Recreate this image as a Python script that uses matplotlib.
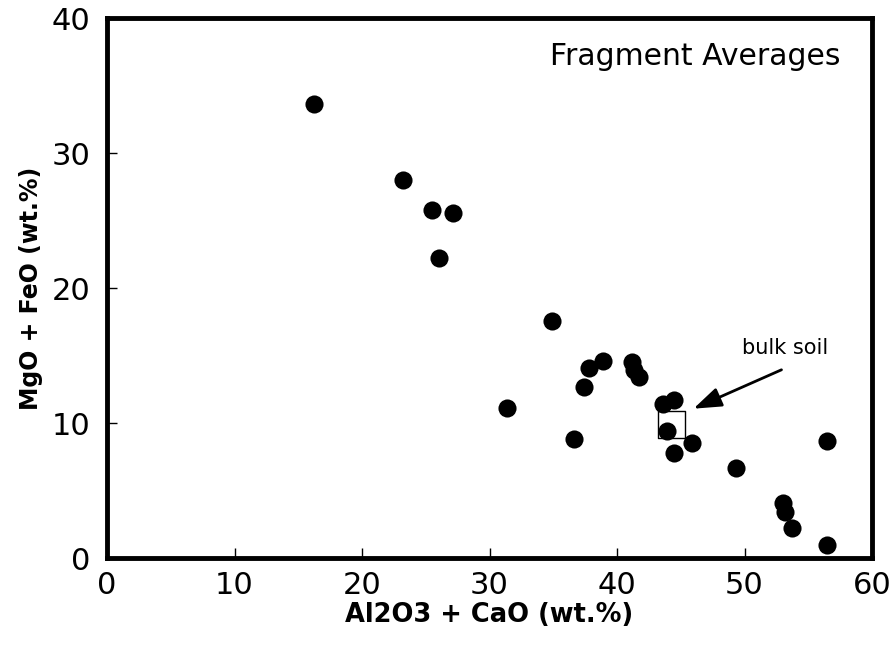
import matplotlib
matplotlib.use("Agg")
import matplotlib.pyplot as plt

# fragment averages (wt.%)
al2o3_cao = [16.2, 23.2, 25.5, 27.1, 26.0, 34.9, 31.4, 36.6, 37.4, 37.8,
             38.9, 41.2, 41.3, 41.7, 43.6, 44.5, 43.9, 45.9, 44.5, 49.3,
             56.5, 53.0, 53.2, 53.7, 56.5]
mgo_feo = [33.65, 28.0, 25.8, 25.6, 22.2, 17.6, 11.1, 8.8, 12.7, 14.1,
           14.6, 14.5, 13.95, 13.4, 11.4, 11.7, 9.4, 8.55, 7.8, 6.7,
           8.7, 4.05, 3.4, 2.2, 0.95]

bulk_soil = (44.3, 9.9)

x_ticks = [0, 10, 20, 30, 40, 50, 60]
y_ticks = [0, 10, 20, 30, 40]

plt.rcParams["font.family"] = ["DejaVu Sans"]

fig = plt.figure(figsize=(8.94, 6.46), dpi=100)
ax = fig.add_axes([0.1197, 0.136, 0.8557, 0.836])

ax.scatter(al2o3_cao, mgo_feo, s=170, color="black", zorder=3, clip_on=False,
           linewidths=0)
ax.scatter([bulk_soil[0]], [bulk_soil[1]], s=380, marker="s",
           facecolors="none", edgecolors="black", linewidths=1.0, zorder=2)

ax.annotate("", xy=(46.0, 11.07), xytext=(52.9, 13.95),
            arrowprops=dict(arrowstyle="-|>,head_length=1.7,head_width=0.6",
                            color="black", lw=2, shrinkA=0, shrinkB=0))
ax.text(53.2, 15.6, "bulk soil", ha="center", va="center", fontsize=15)

ax.text(57.5, 36.5, "Fragment Averages", ha="right", va="baseline",
        fontsize=21.5)

ax.set_xlim(0, 60)
ax.set_ylim(0, 40)
ax.set_xticks(x_ticks)
ax.set_yticks(y_ticks)
ax.tick_params(direction="in", length=7, width=1, labelsize=22)
ax.tick_params(axis="x", pad=9)
ax.tick_params(axis="y", pad=12)

for sp in ax.spines.values():
    sp.set_linewidth(3.5)

ax.set_xlabel("Al2O3 + CaO (wt.%)", fontsize=18.5, fontweight="bold",
              labelpad=2)
ax.set_ylabel("MgO + FeO (wt.%)", fontsize=17, fontweight="bold",
              labelpad=6)

fig.savefig("out.png", dpi=100)
